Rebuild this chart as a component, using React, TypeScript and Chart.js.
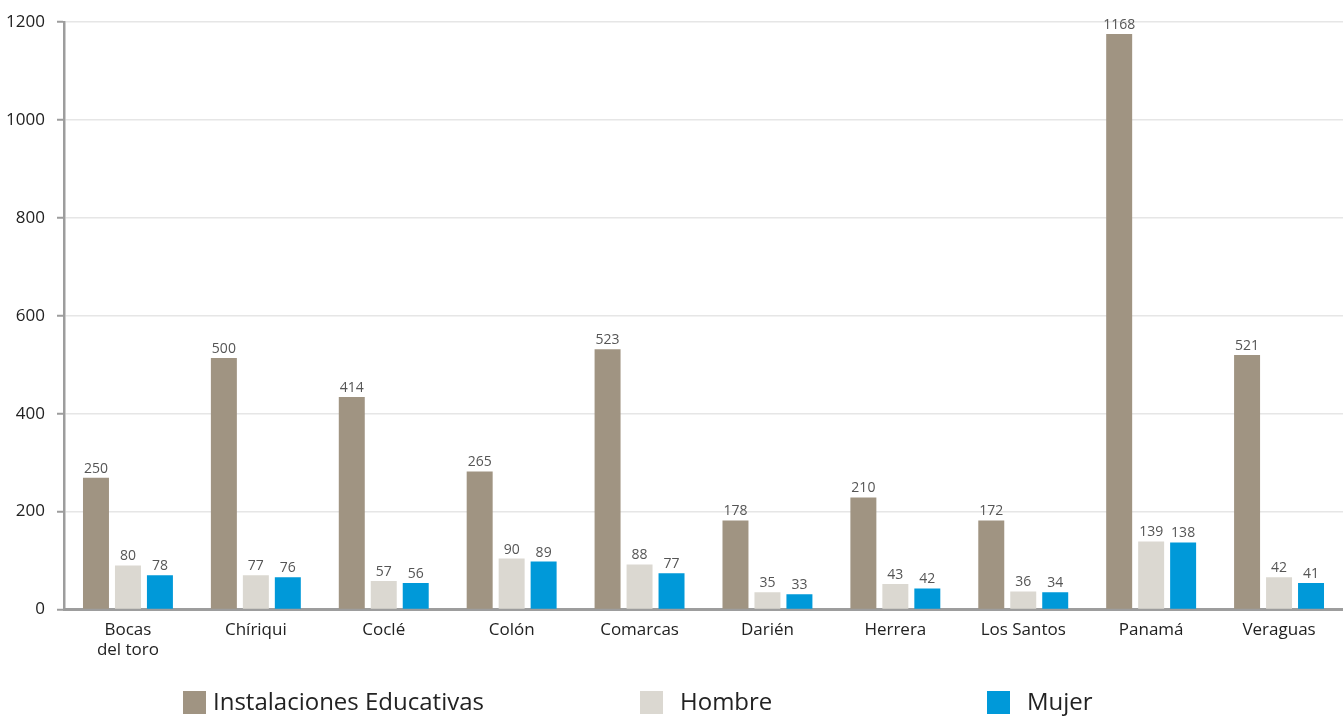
import React, { useEffect, useRef } from "react";
import { Chart, registerables } from "chart.js";

Chart.register(...registerables);

const categories: (string | string[])[] = [
  ["Bocas", "del toro"], "Chíriqui", "Coclé", "Colón", "Comarcas",
  "Darién", "Herrera", "Los Santos", "Panamá", "Veraguas",
];

// Bar heights as drawn in the picture
const instalaciones = [269, 514, 434, 282, 532, 182, 229, 182, 1176, 520];
const hombre = [90, 70, 58, 104, 92, 35, 52, 37, 139, 66];
const mujer = [70, 66, 54, 98, 74, 31, 43, 35, 137, 54];

// Value labels printed above the bars
const instalacionesLabels = [250, 500, 414, 265, 523, 178, 210, 172, 1168, 521];
const hombreLabels = [80, 77, 57, 90, 88, 35, 43, 36, 139, 42];
const mujerLabels = [78, 76, 56, 89, 77, 33, 42, 34, 138, 41];

const seriesNames = ["Instalaciones Educativas", "Hombre", "Mujer"];
const colors = ["#a09482", "#dbd8d1", "#0099d9"];

const yTicks = [0, 200, 400, 600, 800, 1000, 1200];

const FONT = "'Open Sans', 'Noto Sans', sans-serif";

export default function App() {
  const ref = useRef<HTMLCanvasElement | null>(null);

  useEffect(() => {
    document.body.style.margin = "0";
    const canvas = ref.current;
    if (!canvas) return;
    const labelSets = [instalacionesLabels, hombreLabels, mujerLabels];

    const valueLabels = {
      id: "valueLabels",
      afterDatasetsDraw(chart: any) {
        const ctx = chart.ctx;
        ctx.save();
        ctx.font = `14px ${FONT}`;
        ctx.fillStyle = "#555555";
        ctx.textAlign = "center";
        ctx.textBaseline = "bottom";
        chart.data.datasets.forEach((_ds: any, i: number) => {
          const meta = chart.getDatasetMeta(i);
          meta.data.forEach((el: any, j: number) => {
            ctx.fillText(String(labelSets[i][j]), el.x, el.y - 2);
          });
        });
        ctx.restore();
      },
    };

    const boxPos = [183, 640, 987];
    const textPos = [213, 680, 1027];
    const customLegend = {
      id: "customLegend",
      afterDraw(chart: any) {
        const ctx = chart.ctx;
        ctx.save();
        ctx.font = `24px ${FONT}`;
        ctx.textBaseline = "middle";
        ctx.textAlign = "left";
        chart.data.datasets.forEach((ds: any, i: number) => {
          ctx.fillStyle = ds.backgroundColor;
          ctx.fillRect(boxPos[i], 691, 23, 23);
          ctx.fillStyle = "#222222";
          ctx.fillText(ds.label, textPos[i], 703);
        });
        ctx.restore();
      },
    };

    const chart = new Chart(canvas, {
      type: "bar",
      data: {
        labels: categories,
        datasets: [
          { label: seriesNames[0], data: instalaciones, backgroundColor: colors[0] },
          { label: seriesNames[1], data: hombre, backgroundColor: colors[1] },
          { label: seriesNames[2], data: mujer, backgroundColor: colors[2] },
        ],
      },
      options: {
        animation: false,
        responsive: false,
        maintainAspectRatio: false,
        layout: { padding: { top: 20, right: 0, bottom: 0, left: 0 } },
        datasets: { bar: { categoryPercentage: 0.75, barPercentage: 0.8125 } },
        plugins: {
          legend: { display: false },
          tooltip: { enabled: false },
        },
        scales: {
          x: {
            grid: { display: false },
            border: { display: true, color: "#9d9d9d", width: 3 },
            ticks: {
              color: "#222222",
              font: { family: FONT, size: 17 },
              padding: 2,
              maxRotation: 0,
              autoSkip: false,
            },
            afterFit(scale: any) {
              scale.height = 109.5;
            },
          },
          y: {
            min: 0,
            max: 1200,
            afterBuildTicks(scale: any) {
              scale.ticks = yTicks.map((v) => ({ value: v }));
            },
            grid: {
              color: "#e6e6e6",
              lineWidth: 1.5,
              tickLength: 7,
              tickColor: "#9d9d9d",
              tickWidth: 2,
            },
            border: { display: true, color: "#9d9d9d", width: 2.5 },
            ticks: {
              color: "#222222",
              font: { family: FONT, size: 17 },
              padding: 12,
              callback: (v: any) => String(v),
            },
            afterFit(scale: any) {
              scale.width = 64;
            },
          },
        },
      },
      plugins: [valueLabels, customLegend],
    });
    return () => chart.destroy();
  }, []);

  return (
    <div style={{ width: 1343, height: 719 }}>
      <canvas ref={ref} width={1343} height={719} style={{ display: "block" }} />
    </div>
  );
}
